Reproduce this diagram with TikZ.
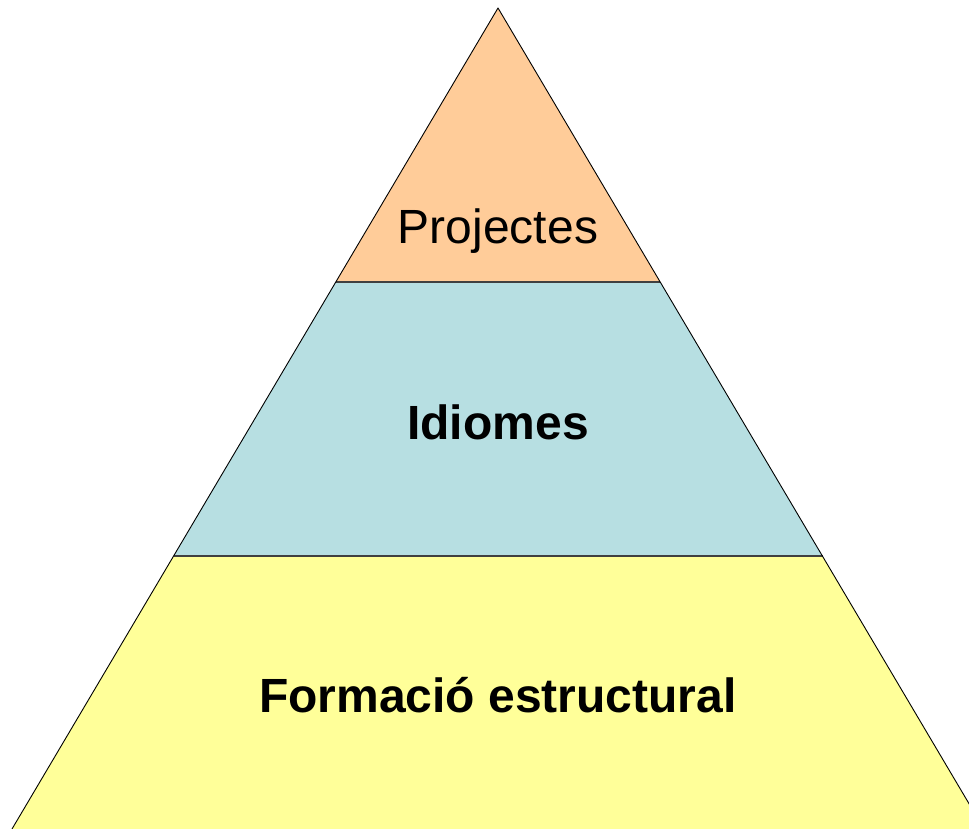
\documentclass[tikz,border=0pt]{standalone}
\usepackage{fontspec}
\setmainfont{Liberation Sans}
\definecolor{topc}{HTML}{FFCC99}
\definecolor{midc}{HTML}{B7DFE2}
\definecolor{botc}{HTML}{FFFF99}
\begin{document}
\begin{tikzpicture}[x=1pt,y=-1pt,
  edge/.style={draw=black,line width=0.9pt,line join=round},
  sep/.style={draw=black!75,line width=1.8pt},
  lbl/.style={font=\fontsize{48}{50}\selectfont,inner sep=0pt,anchor=center}]
\useasboundingbox (0,0) rectangle (969,829);
\clip (0,0) rectangle (969,829);
\coordinate (apex) at (498,8);
\coordinate (l1) at (335.7,282);
\coordinate (r1) at (660.3,282);
\coordinate (l2) at (173.5,556);
\coordinate (r2) at (822.5,556);
\coordinate (bl) at (12,829);
\coordinate (br) at (984,829);
\fill[topc] (apex) -- (r1) -- (l1) -- cycle;
\fill[midc] (l1) -- (r1) -- (r2) -- (l2) -- cycle;
\fill[botc] (l2) -- (r2) -- (br) -- (bl) -- cycle;
\draw[sep] (l1) -- (r1);
\draw[sep] (l2) -- (r2);
\draw[edge] (bl) -- (apex) -- (br);
\node[lbl] (p) at (498,231) {Projectes};
\node[lbl,font=\fontsize{48}{50}\selectfont\bfseries] (i) at (498,422) {Idiomes};
\node[lbl,font=\fontsize{48}{50}\selectfont\bfseries] (f) at (498,695) {Formació estructural};
\end{tikzpicture}
\end{document}
